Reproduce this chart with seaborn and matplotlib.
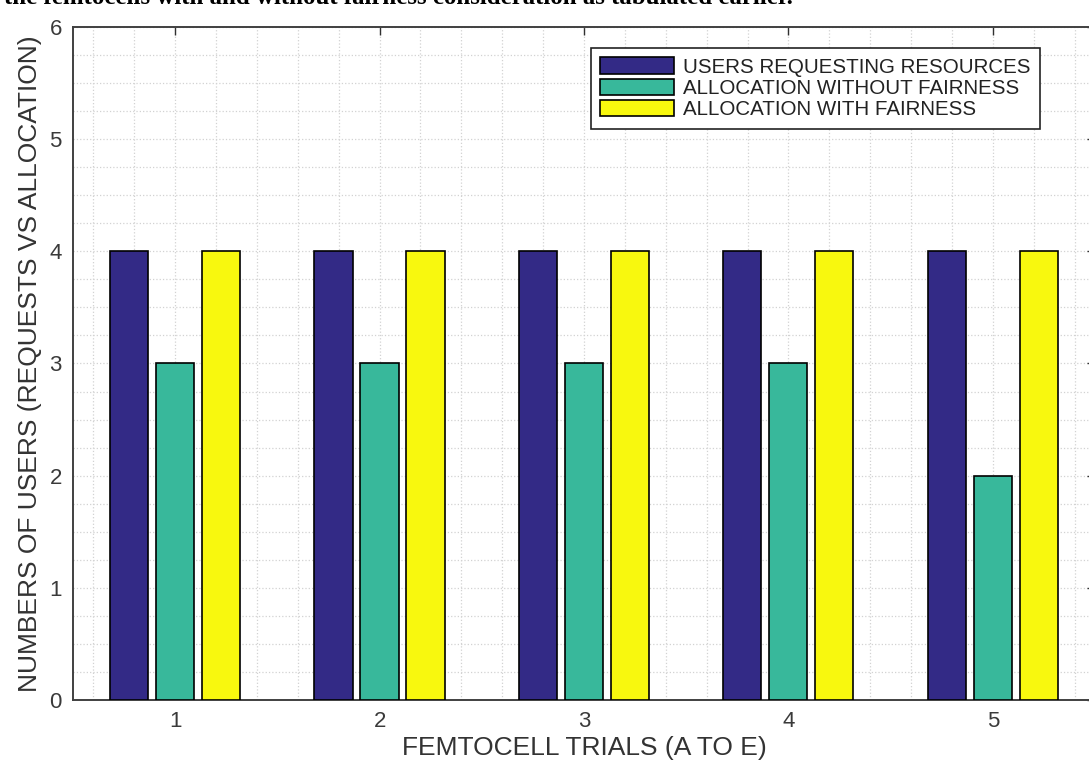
import matplotlib
matplotlib.use("Agg")
import matplotlib.pyplot as plt
from matplotlib.ticker import MultipleLocator
import seaborn as sns
import pandas as pd

# Femtocell trials and user counts per trial
trials = ["1", "2", "3", "4", "5"]
users_requesting = [4, 4, 4, 4, 4]
alloc_without_fairness = [3, 3, 3, 3, 2]
alloc_with_fairness = [4, 4, 4, 4, 4]

series_names = [
    "USERS REQUESTING RESOURCES",
    "ALLOCATION WITHOUT FAIRNESS",
    "ALLOCATION WITH FAIRNESS",
]
series_colors = ["#332a86", "#38b89b", "#f8f80e"]

df = pd.DataFrame({
    "trial": trials * 3,
    "series": [series_names[0]] * 5 + [series_names[1]] * 5 + [series_names[2]] * 5,
    "users": users_requesting + alloc_without_fairness + alloc_with_fairness,
})

sns.set_theme(style="white")
plt.rcParams["font.family"] = ["Liberation Sans", "DejaVu Sans"]

fig = plt.figure(figsize=(10.89, 7.68), dpi=100)
ax = fig.add_axes([0.067, 0.0885, 0.9385, 0.8765])

sns.barplot(
    data=df, x="trial", y="users", hue="series",
    hue_order=series_names, palette=series_colors,
    width=0.675, gap=0.17, edgecolor="black", linewidth=1.2,
    saturation=1, ax=ax, zorder=3,
)

ax.set_xlim(-0.5, 4.5)
ax.set_ylim(0, 6)
ax.set_yticks(range(0, 7))
ax.xaxis.set_minor_locator(MultipleLocator(0.2))
ax.yaxis.set_minor_locator(MultipleLocator(0.25))
ax.grid(True, which="both", color="#d2d2d2", linestyle=":", linewidth=0.9, zorder=0)
ax.set_axisbelow(True)

for s in ax.spines.values():
    s.set_visible(True)
    s.set_color("#404040")
    s.set_linewidth(1.4)

ax.tick_params(axis="both", which="major", direction="in", length=6, width=1,
               color="#303030", labelsize=16, labelcolor="#3a3a3a",
               top=True, right=True, pad=8)
ax.tick_params(axis="both", which="minor", length=0)

ax.set_xlabel("FEMTOCELL TRIALS (A TO E)", fontsize=19, color="#333333", labelpad=3)
ax.set_ylabel("NUMBERS OF USERS (REQUESTS VS ALLOCATION)", fontsize=19,
              color="#333333", labelpad=5)

leg = ax.legend(
    loc="upper right", bbox_to_anchor=(0.955, 0.9375), bbox_transform=fig.transFigure,
    borderaxespad=0, fontsize=14.8, frameon=True, fancybox=False,
    handlelength=3.6, handleheight=0.85, handletextpad=0.45, labelspacing=0.1,
    borderpad=0.45, title=None,
)
leg.get_frame().set_edgecolor("#222222")
leg.get_frame().set_linewidth(1.2)
leg.get_frame().set_alpha(1)
for t in leg.get_texts():
    t.set_color("#222222")
for h in leg.legend_handles:
    h.set_edgecolor("black")
    h.set_linewidth(1.2)

fig.text(0.004, 1.0 - 4 / 768,
         "the femtocells with and without fairness consideration as tabulated earlier.",
         fontsize=17.9, family=["Liberation Serif", "DejaVu Serif"], weight="bold",
         va="baseline", ha="left", color="black")

fig.savefig("out.png", dpi=100)
